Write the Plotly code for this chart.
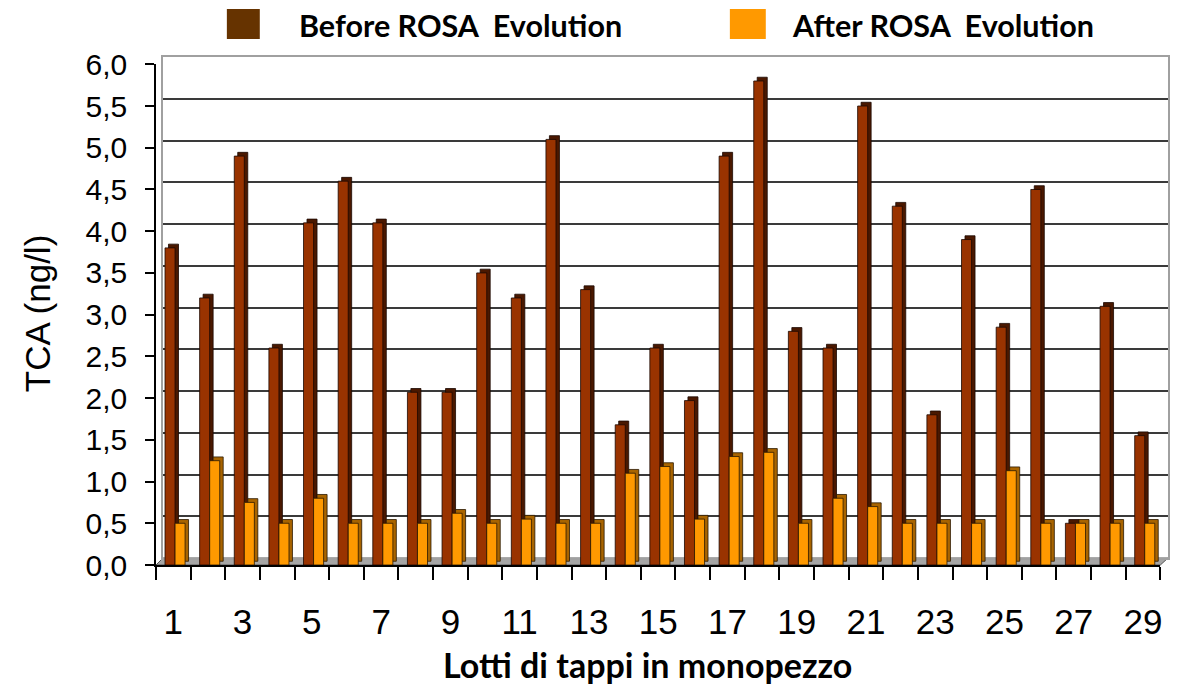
import plotly.graph_objects as go

lots = list(range(1, 30))
before = [3.8, 3.2, 4.9, 2.6, 4.1, 4.6, 4.1, 2.07, 2.07, 3.5,
          3.2, 5.1, 3.3, 1.68, 2.6, 1.97, 4.9, 5.8, 2.8, 2.6,
          5.5, 4.3, 1.8, 3.9, 2.85, 4.5, 0.5, 3.1, 1.55]
after = [0.5, 1.25, 0.75, 0.5, 0.8, 0.5, 0.5, 0.5, 0.62, 0.5,
         0.55, 0.5, 0.5, 1.1, 1.18, 0.55, 1.3, 1.35, 0.5, 0.8,
         0.7, 0.5, 0.5, 0.5, 1.13, 0.5, 0.5, 0.5, 0.5]
x_tick_vals = [1, 3, 5, 7, 9, 11, 13, 15, 17, 19, 21, 23, 25, 27, 29]
x_tick_text = [str(v) for v in x_tick_vals]
series_names = ["Before ROSA\u00a0\u00a0Evolution", "After ROSA\u00a0\u00a0Evolution"]

PAGE = 8                      # default body margin of the html page
W, H = 1182 - PAGE, 685 - PAGE
L, R, T, B = 156, 1170, 57, 565   # paper area in reference px
pw, ph = R - L, B - T

def px_x(p):
    return (p - L) / pw

def px_y(p):
    return (B - p) / ph

depth = 0.045   # 3D depth in data units (y)
BW = 0.29

fig = go.Figure()
# back plane subplot (gridlines)
fig.add_trace(go.Scatter(x=[None], y=[None], xaxis="x", yaxis="y",
                         showlegend=False, hoverinfo="skip"))

# side/top faces (shadow) + front faces
fig.add_trace(go.Bar(x=lots, y=before, base=depth, offset=-0.24 + 0.1, width=BW,
                     marker=dict(color="#4a1800", line=dict(color="#1a0800", width=0.8)),
                     xaxis="x2", yaxis="y2", showlegend=False, hoverinfo="skip"))
fig.add_trace(go.Bar(x=lots, y=before, offset=-0.24, width=BW, name=series_names[0],
                     marker=dict(color="#993300", line=dict(color="#1a0800", width=0.8)),
                     xaxis="x2", yaxis="y2", showlegend=False))
fig.add_trace(go.Bar(x=lots, y=after, base=depth, offset=0.05 + 0.1, width=BW,
                     marker=dict(color="#a86400", line=dict(color="#2a1800", width=0.8)),
                     xaxis="x2", yaxis="y2", showlegend=False, hoverinfo="skip"))
fig.add_trace(go.Bar(x=lots, y=after, offset=0.05, width=BW, name=series_names[1],
                     marker=dict(color="#ff9900", line=dict(color="#2a1800", width=0.8)),
                     xaxis="x2", yaxis="y2", showlegend=False))

shapes = [
    # floor
    dict(type="path", xref="paper", yref="paper", layer="below",
         path=f"M 0 0 L {px_x(1162.3)} 0 L 1 {px_y(558)} L {px_x(163)} {px_y(558)} Z",
         fillcolor="#a6a6a6", line=dict(color="#555555", width=1)),
    # legend squares
    dict(type="rect", xref="paper", yref="paper",
         x0=px_x(227), x1=px_x(260), y0=px_y(39), y1=px_y(9),
         fillcolor="#663300", line=dict(width=0)),
    dict(type="rect", xref="paper", yref="paper",
         x0=px_x(731), x1=px_x(767), y0=px_y(39), y1=px_y(9),
         fillcolor="#ff9900", line=dict(width=0)),
]

annotations = [
    dict(text="<b>" + series_names[0] + "</b>", xref="paper", yref="paper",
         x=px_x(297), y=px_y(25), xanchor="left", yanchor="middle", showarrow=False,
         font=dict(family="Lato", size=30.5, color="black")),
    dict(text="<b>" + series_names[1] + "</b>", xref="paper", yref="paper",
         x=px_x(791), y=px_y(25), xanchor="left", yanchor="middle", showarrow=False,
         font=dict(family="Lato", size=30.5, color="black")),
    dict(text="<b>Lotti di tappi in monopezzo</b>", xref="paper", yref="paper",
         x=px_x(648), y=px_y(664), xanchor="center", yanchor="middle", showarrow=False,
         font=dict(family="Lato", size=34, color="black")),
    dict(text="TCA (ng/l)", xref="paper", yref="paper", textangle=-90,
         x=px_x(37), y=px_y(313), xanchor="center", yanchor="middle", showarrow=False,
         font=dict(family="Liberation Sans", size=35, color="black")),
]

fig.update_layout(
    width=W, height=H,
    margin=dict(l=L - PAGE, r=1182 - R, t=T - PAGE, b=685 - B, pad=0),
    paper_bgcolor="white", plot_bgcolor="rgba(0,0,0,0)",
    separators=",.",
    barmode="overlay",
    showlegend=False,
    shapes=shapes, annotations=annotations,
    # back plane axes
    xaxis=dict(domain=[px_x(163), 1], range=[0.5, 29.5], showgrid=False, zeroline=False,
               showticklabels=False, ticks="", showline=True, mirror=True,
               linecolor="#a0a0a0", linewidth=2, anchor="y"),
    yaxis=dict(domain=[px_y(558), 1], range=[0, 6], dtick=0.5, showgrid=True,
               gridcolor="#3a3a3a", gridwidth=1.5, zeroline=False,
               showticklabels=False, ticks="", showline=True, mirror=True,
               linecolor="#a0a0a0", linewidth=2, anchor="x"),
    # front axes
    xaxis2=dict(domain=[0, px_x(1162.3)], range=[0.5, 29.5], anchor="y2",
                tickmode="array", tickvals=x_tick_vals, ticktext=x_tick_text,
                ticks="", showgrid=False, zeroline=False,
                showline=True, linecolor="black", linewidth=1.5,
                tickfont=dict(family="Liberation Sans", size=35, color="black"),
                ticklabelstandoff=25,
                minor=dict(tickmode="linear", tick0=0.5, dtick=1, ticks="outside",
                           ticklen=13, tickcolor="black", tickwidth=1.5, showgrid=False)),
    yaxis2=dict(domain=[0, px_y(64.3)], range=[0, 6], dtick=0.5, tickformat=".1f",
                anchor="x2", showgrid=False, zeroline=False,
                ticks="outside", ticklen=9, tickcolor="black", tickwidth=1.5,
                showline=True, linecolor="black", linewidth=1.5,
                tickfont=dict(family="Liberation Sans", size=30, color="black"),
                ticklabelstandoff=12),
)

fig.write_html("out.html")
